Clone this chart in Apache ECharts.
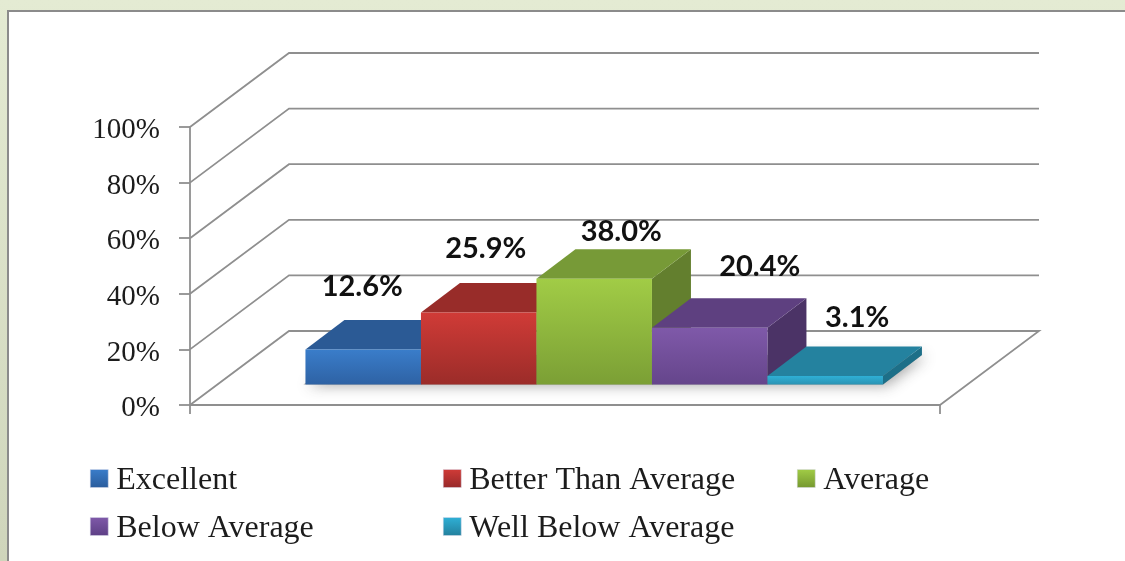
<!DOCTYPE html>
<html>
<head>
<meta charset="utf-8">
<script src="https://cdn.jsdelivr.net/npm/echarts@6/dist/echarts.min.js"></script>
<style>
html,body{margin:0;padding:0;width:1125px;height:561px;overflow:hidden;background:linear-gradient(180deg,#e4ebd3 0%,#cfd5bb 100%);}
#frame{position:absolute;left:7px;top:10px;width:1125px;height:561px;background:#fff;border:2px solid #8b8b8b;}
#main{position:absolute;left:0;top:0;width:1125px;height:561px;filter:blur(0.6px);}
</style>
</head>
<body>
<div id="frame"></div>
<div id="main"></div>
<script>
const categories = [''];
const seriesNames = ['Excellent', 'Better Than Average', 'Average', 'Below Average', 'Well Below Average'];
const seriesValues = [12.6, 25.9, 38.0, 20.4, 3.1];
const gridTicks = [0, 20, 40, 60, 80, 100];

const palette = [
  {front: ['#3a7dca', '#2e62a4'], top: '#2b5a95', side: '#234c80', key: ['#3a7dca', '#2a5c9c']},
  {front: ['#d03b37', '#9b2c29'], top: '#982c29', side: '#7f2522', key: ['#d03b37', '#97292a']},
  {front: ['#a1cc46', '#7b9f35'], top: '#779a37', side: '#637f2e', key: ['#a1cc46', '#75982f']},
  {front: ['#7f59a9', '#65458b'], top: '#5e4080', side: '#4b3366', key: ['#7f59a9', '#5d3f85']},
  {front: ['#2fb0d6', '#2a93b3'], top: '#24829f', side: '#1d6f88', key: ['#2fb0d6', '#23809d']}
];
const labelOffsets = [[-1, -63], [7, -64], [27, -47], [50, -61], [32, -58]];
const legendPos = [[90, 465], [443, 465], [797, 465], [90, 513], [443, 513]];

const WALL = [99, -74], BAR_DEPTH = [39, -29.5], BASE_SHIFT = [29.2, -20.5], BAR_FRAC = 0.154;
const LINE = '#8f8f8f';

function vGrad(c) {
  return {type: 'linear', x: 0, y: 0, x2: 0, y2: 1, colorStops: [{offset: 0, color: c[0]}, {offset: 1, color: c[1]}]};
}
function poly(points, fill, extra) {
  return {type: 'polygon', shape: {points}, style: Object.assign({fill}, extra || {})};
}

function renderBar(idx) {
  return function (params, api) {
    const val = api.value(1);
    const centre = api.coord([0, 0])[0];
    const baseY = api.coord([0, 0])[1] + BASE_SHIFT[1];
    const h = api.coord([0, 0])[1] - api.coord([0, val])[1];
    const w = api.size([1, 0])[0] * BAR_FRAC;
    const x0 = centre + (idx - 2.5) * w + BASE_SHIFT[0], x1 = x0 + w;
    const yt = baseY - h;
    const dx = BAR_DEPTH[0], dy = BAR_DEPTH[1];
    const p = palette[idx];
    const children = [
      poly([[x1, yt], [x1 + dx, yt + dy], [x1 + dx, baseY + dy], [x1, baseY]], p.side),
      poly([[x0, yt], [x1, yt], [x1 + dx, yt + dy], [x0 + dx, yt + dy]], p.top),
      {type: 'rect', shape: {x: x0, y: yt, width: w, height: h}, style: {fill: vGrad(p.front)}},
      {type: 'text', style: {
        text: val.toFixed(1) + '%',
        x: (x0 + x1) / 2 + labelOffsets[idx][0], y: yt + labelOffsets[idx][1],
        align: 'center', verticalAlign: 'middle',
        font: 'bold 29px Lato, sans-serif', fill: '#111'
      }}
    ];
    return {type: 'group', children};
  };
}

function renderShadow(params, api) {
  const centre = api.coord([0, 0])[0];
  const baseY = api.coord([0, 0])[1] + BASE_SHIFT[1];
  const w = api.size([1, 0])[0] * BAR_FRAC;
  const x0 = centre - 2.5 * w + BASE_SHIFT[0], x1 = x0 + 5 * w;
  return poly([[x0 - 2, baseY], [x1, baseY], [x1 + BAR_DEPTH[0], baseY + BAR_DEPTH[1]], [x0 + BAR_DEPTH[0], baseY + BAR_DEPTH[1]]],
    'rgba(90,90,90,0.5)', {shadowBlur: 14, shadowColor: 'rgba(50,50,50,0.85)', shadowOffsetX: 4, shadowOffsetY: 1});
}

function renderWall(params, api) {
  const v = api.value(1);
  const leftX = api.coord([0, v])[0] - api.size([1, 0])[0] / 2;
  const y = api.coord([0, v])[1];
  const rightX = leftX + api.size([1, 0])[0];
  const pts = [[leftX, y], [leftX + WALL[0], y + WALL[1]], [rightX + WALL[0], y + WALL[1]]];
  if (v === 0) pts.push([rightX, y]);
  return {type: 'polyline', shape: {points: pts}, style: {stroke: LINE, lineWidth: 1.8, fill: null}};
}

const series = [
  {type: 'custom', name: 'walls', silent: true, clip: false, renderItem: renderWall, z: 1,
   encode: {x: 0, y: 1}, data: gridTicks.map(v => [0, v])},
  {type: 'custom', name: 'floorShadow', silent: true, clip: false, renderItem: renderShadow, z: 2,
   encode: {x: 0, y: 1}, data: [[0, 0]]}
].concat(seriesNames.map((name, i) => ({
  type: 'custom', name, clip: false, renderItem: renderBar(i), z: 3 + i,
  encode: {x: 0, y: 1},
  itemStyle: {color: vGrad(palette[i].key)},
  data: [[0, seriesValues[i]]]
})));

const legends = seriesNames.map((name, i) => ({
  left: legendPos[i][0], top: legendPos[i][1], padding: 0,
  itemWidth: 18, itemHeight: 18, icon: 'rect', selectedMode: false,
  data: [{name, icon: 'rect', itemStyle: {color: vGrad(palette[i].key), borderColor: '#d8d8e8', borderWidth: 0.5}}],
  formatter: n => '{t|' + n + '}',
  textStyle: {color: '#1c1c1c', padding: [0, 0, 0, 3], fontSize: 32, fontFamily: '"Liberation Serif"',
    rich: {t: {fontFamily: '"Liberation Serif"', fontSize: 32, color: '#1c1c1c', padding: [5, 0, 0, 0]}}}
}));

const chart = echarts.init(document.getElementById('main'), null, {renderer: 'canvas', width: 1125, height: 561});
chart.setOption({
  animation: false,
  backgroundColor: 'transparent',
  grid: {left: 190, top: 127, width: 750, height: 278, containLabel: false},
  tooltip: {show: false},
  legend: legends,
  xAxis: {type: 'category', data: categories,
    axisLine: {lineStyle: {color: LINE, width: 1.8}},
    axisTick: {show: true, length: 9, lineStyle: {color: LINE, width: 1.8}},
    axisLabel: {show: false}},
  yAxis: {type: 'value', min: 0, max: 100, interval: 20,
    axisLine: {show: true, lineStyle: {color: LINE, width: 1.8}},
    axisTick: {show: true, length: 11, lineStyle: {color: LINE, width: 1.8}},
    splitLine: {show: false},
    axisLabel: {formatter: v => '{t|' + v + '%}', margin: 30,
      rich: {t: {fontFamily: '"Liberation Serif"', fontSize: 29, color: '#1c1c1c', padding: [7, 0, 0, 0]}}}},
  series
});
</script>
</body>
</html>
